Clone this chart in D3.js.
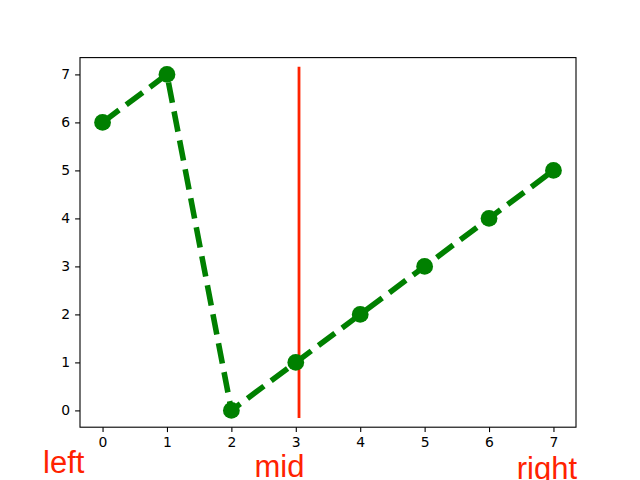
<!DOCTYPE html>
<html>
<head>
<meta charset="utf-8">
<script src="https://cdn.jsdelivr.net/npm/d3@7"></script>
<style>
  html, body { margin: 0; padding: 0; background: #fff; }
  svg { display: block; }
</style>
</head>
<body>
<svg id="chart" width="640" height="480"></svg>
<script>
const xValues = [0, 1, 2, 3, 4, 5, 6, 7];
const yValues = [6, 7, 0, 1, 2, 3, 4, 5];
const xTicks = [0, 1, 2, 3, 4, 5, 6, 7];
const yTicks = [0, 1, 2, 3, 4, 5, 6, 7];
const vlineX = 3.05;
const vlineY = [-0.1575, 7.1575];
const labels = ["left", "mid", "right"];

const W = 640, H = 480;
const m = { left: 80, right: 576, top: 57.6, bottom: 427.2 };
const svg = d3.select("#chart");

const x = d3.scaleLinear().domain([-0.35, 7.35]).range([m.left, m.right]);
const y = d3.scaleLinear().domain([-0.35, 7.35]).range([m.bottom, m.top]);

// axes
const xAxis = d3.axisBottom(x).tickValues(xTicks).tickFormat(d3.format("d")).tickSize(4.9).tickPadding(4.9);
const yAxis = d3.axisLeft(y).tickValues(yTicks).tickFormat(d3.format("d")).tickSize(4.9).tickPadding(4.9);

const gx = svg.append("g").attr("transform", `translate(0,${m.bottom})`).call(xAxis);
const gy = svg.append("g").attr("transform", `translate(${m.left},0)`).call(yAxis);
[gx, gy].forEach(g => {
  g.select(".domain").remove();
  g.selectAll("line").attr("stroke", "#000").attr("stroke-width", 1.1);
  g.selectAll("text").attr("font-family", "DejaVu Sans").attr("font-size", 13.9).attr("fill", "#000");
});

// red vertical line
svg.append("line")
  .attr("x1", x(vlineX)).attr("x2", x(vlineX))
  .attr("y1", y(vlineY[0])).attr("y2", y(vlineY[1]))
  .attr("stroke", "#ff2200").attr("stroke-width", 2.8);

// data line
const pts = xValues.map((v, i) => [v, yValues[i]]);
svg.append("path")
  .attr("d", d3.line().x(d => x(d[0])).y(d => y(d[1]))(pts))
  .attr("fill", "none")
  .attr("stroke", "#008000")
  .attr("stroke-width", 5.56)
  .attr("stroke-dasharray", "20.6,8.9");

svg.append("g").selectAll("circle").data(pts).join("circle")
  .attr("cx", d => x(d[0])).attr("cy", d => y(d[1]))
  .attr("r", 8.4).attr("fill", "#008000");

// frame
svg.append("rect")
  .attr("x", m.left).attr("y", m.top)
  .attr("width", m.right - m.left).attr("height", m.bottom - m.top)
  .attr("fill", "none").attr("stroke", "#000").attr("stroke-width", 1.1);

// red labels
const labelPos = [
  { x: 43, y: 473, anchor: "start" },
  { x: 279.5, y: 477, anchor: "middle" },
  { x: 577, y: 479, anchor: "end" }
];
svg.append("g").selectAll("text").data(labels).join("text")
  .attr("x", (d, i) => labelPos[i].x)
  .attr("y", (d, i) => labelPos[i].y)
  .attr("text-anchor", (d, i) => labelPos[i].anchor)
  .attr("font-family", "Liberation Sans, Arial, sans-serif")
  .attr("font-size", 31)
  .attr("fill", "#ff2200")
  .text(d => d);
</script>
</body>
</html>
